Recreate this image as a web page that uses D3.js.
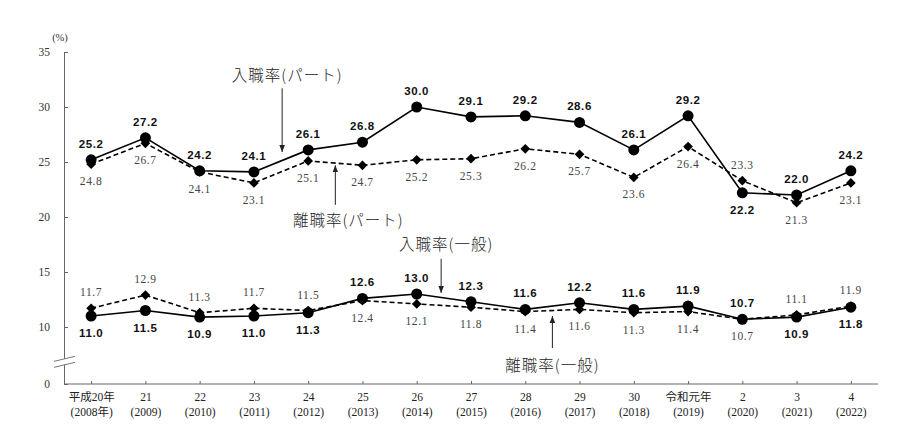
<!DOCTYPE html>
<html lang="ja">
<head>
<meta charset="UTF-8" />
<title>入職率・離職率の推移</title>
<script src="https://d3js.org/d3.v7.min.js"></script>
<style>
  body { margin: 0; background: #fff; }
  svg { display: block; font-family: "Liberation Serif", "Noto Sans CJK JP", serif; }
  .axis path, .axis line { stroke: #666; fill: none; }
</style>
</head>
<body>
<svg id="chart" width="912" height="433"></svg>
<script>
// 年次ラベル（2行）
const years1 = ["平成20年", "21", "22", "23", "24", "25", "26", "27", "28", "29", "30", "令和元年", "2", "3", "4"];
const years2 = ["(2008年)", "(2009)", "(2010)", "(2011)", "(2012)", "(2013)", "(2014)", "(2015)", "(2016)", "(2017)", "(2018)", "(2019)", "(2020)", "(2021)", "(2022)"];

// 系列データ（%）
const entryPart = [25.2, 27.2, 24.2, 24.1, 26.1, 26.8, 30.0, 29.1, 29.2, 28.6, 26.1, 29.2, 22.2, 22.0, 24.2];
const sepPart   = [24.8, 26.7, 24.1, 23.1, 25.1, 24.7, 25.2, 25.3, 26.2, 25.7, 23.6, 26.4, 23.3, 21.3, 23.1];
const entryGen  = [11.0, 11.5, 10.9, 11.0, 11.3, 12.6, 13.0, 12.3, 11.6, 12.2, 11.6, 11.9, 10.7, 10.9, 11.8];
const sepGen    = [11.7, 12.9, 11.3, 11.7, 11.5, 12.4, 12.1, 11.8, 11.4, 11.6, 11.3, 11.4, 10.7, 11.1, 11.9];

const yTicks = [0, 10, 15, 20, 25, 30, 35];

// ラベルの上下（a=上, b=下）
const posEntryPart = "aaaaaaaaaaaabaa".split("");
const posSepPart   = "bbbbbbbbbbbbabb".split("");
const posEntryGen  = "bbbbbaaaaaaaabb".split("");
const posSepGen    = "aaaaabbbbbbbbaa".split("");

const svg = d3.select("#chart");
const left = 64, right = 878, bottom = 384;

const x = d3.scaleBand().domain(d3.range(years1.length)).range([left, right]).padding(0);
const cx = i => x(i) + x.bandwidth() / 2;
// 10未満は省略（波線）
const y = d3.scaleLinear().domain([0, 10, 35]).range([bottom, 327, 52]);

// y axis
const yAxis = svg.append("g").attr("class", "axis")
  .attr("transform", `translate(${left},0)`)
  .call(d3.axisLeft(y).tickValues(yTicks).tickSizeInner(-4).tickSizeOuter(0).tickPadding(14))
  .attr("font-family", null);
yAxis.selectAll("text").attr("font-size", 11.5).attr("fill", "#333");

svg.append("text").attr("x", left - 4).attr("y", 41).attr("text-anchor", "middle")
  .attr("font-size", 10.5).attr("fill", "#333").text("(%)");

// x axis
const xAxis = svg.append("g").attr("class", "axis")
  .attr("transform", `translate(0,${bottom})`)
  .call(d3.axisBottom(d3.scalePoint().domain(d3.range(years1.length)).range([cx(0), cx(years1.length - 1)]))
    .tickSize(-3).tickFormat(""))
  .attr("font-family", null);
xAxis.select(".domain").attr("d", `M${left},0H${right}`);
xAxis.selectAll(".tick").each(function(d) {
  const t = d3.select(this).append("text").attr("fill", "#222").attr("font-size", 11.5)
    .attr("text-anchor", "middle");
  t.append("tspan").attr("x", 0).attr("y", 17).text(years1[d]);
  t.append("tspan").attr("x", 0).attr("y", 32).text(years2[d]);
});

// 波線（軸の省略記号）
const by = y(4.5);
svg.append("path").attr("d", `M${left - 10},${by + 3}L${left + 11},${by - 2}L${left + 11},${by + 4}L${left - 10},${by + 9}Z`)
  .attr("fill", "#fff");
svg.append("path").attr("d", `M${left - 10},${by + 3}L${left + 11},${by - 2}M${left - 10},${by + 9}L${left + 11},${by + 4}`)
  .attr("stroke", "#777").attr("fill", "none");

const line = d3.line().x((d, i) => cx(i)).y(d => y(d));

function drawSeries(vals, dashed, marker) {
  svg.append("path").datum(vals).attr("d", line)
    .attr("fill", "none").attr("stroke", "#000").attr("stroke-width", 1.6)
    .attr("stroke-dasharray", dashed ? "5,3" : null);
  const g = svg.append("g");
  if (marker === "circle") {
    g.selectAll("circle").data(vals).join("circle")
      .attr("cx", (d, i) => cx(i)).attr("cy", d => y(d)).attr("r", 5.5).attr("fill", "#000");
  } else {
    g.selectAll("path").data(vals).join("path")
      .attr("d", d3.symbol(d3.symbolDiamond2, 60))
      .attr("transform", (d, i) => `translate(${cx(i)},${y(d)})`).attr("fill", "#000");
  }
}

function drawLabels(vals, pos, bold) {
  svg.append("g").selectAll("text").data(vals).join("text")
    .attr("x", (d, i) => cx(i))
    .attr("y", (d, i) => y(d) + (pos[i] === "a" ? -12 : 21))
    .attr("text-anchor", "middle")
    .attr("font-size", bold ? 11.5 : 11.5)
    .attr("font-weight", bold ? "bold" : "normal")
    .attr("font-family", bold ? "Liberation Sans, sans-serif" : "Liberation Serif, serif")
    .attr("fill", bold ? "#111" : "#444")
    .attr("letter-spacing", 0.6)
    .text(d => d3.format(".1f")(d));
}

drawSeries(sepPart, true, "diamond");
drawSeries(entryPart, false, "circle");
drawSeries(sepGen, true, "diamond");
drawSeries(entryGen, false, "circle");

drawLabels(entryPart, posEntryPart, true);
drawLabels(sepPart, posSepPart, false);
drawLabels(entryGen, posEntryGen, true);
drawLabels(sepGen, posSepGen, false);

// 注記と矢印
svg.append("defs").append("marker").attr("id", "ah")
  .attr("viewBox", "0 0 10 10").attr("refX", 10).attr("refY", 5)
  .attr("markerWidth", 7).attr("markerHeight", 7).attr("orient", "auto")
  .append("path").attr("d", "M0,1L10,5L0,9Z").attr("fill", "#222");

const notes = [
  { text: "入職率(パート)", xi: 3.52, ty: 32.9, dx: 5, y0: 31.7, y1: 25.9 },
  { text: "離職率(パート)", xi: 4.5, ty: 19.7, dx: 13, y0: 21.1, y1: 24.7 },
  { text: "入職率(一般)", xi: 6.45, ty: 17.5, dx: 5, y0: 16.2, y1: 13.1 },
  { text: "離職率(一般)", xi: 8.5, ty: 3.3, dx: 0, y0: 6.3, y1: 11.0 }
];
const xi = v => cx(0) + v * x.bandwidth();
notes.forEach(n => {
  svg.append("line").attr("x1", xi(n.xi)).attr("x2", xi(n.xi))
    .attr("y1", y(n.y0)).attr("y2", y(n.y1))
    .attr("stroke", "#222").attr("stroke-width", 1).attr("marker-end", "url(#ah)");
  svg.append("text").attr("x", xi(n.xi) + n.dx).attr("y", y(n.ty) + 5.5)
    .attr("text-anchor", "middle").attr("font-size", 15.5).attr("letter-spacing", 1)
    .attr("font-family", "Noto Sans CJK JP").attr("font-weight", 300).attr("fill", "#222")
    .text(n.text);
});
</script>
</body>
</html>
